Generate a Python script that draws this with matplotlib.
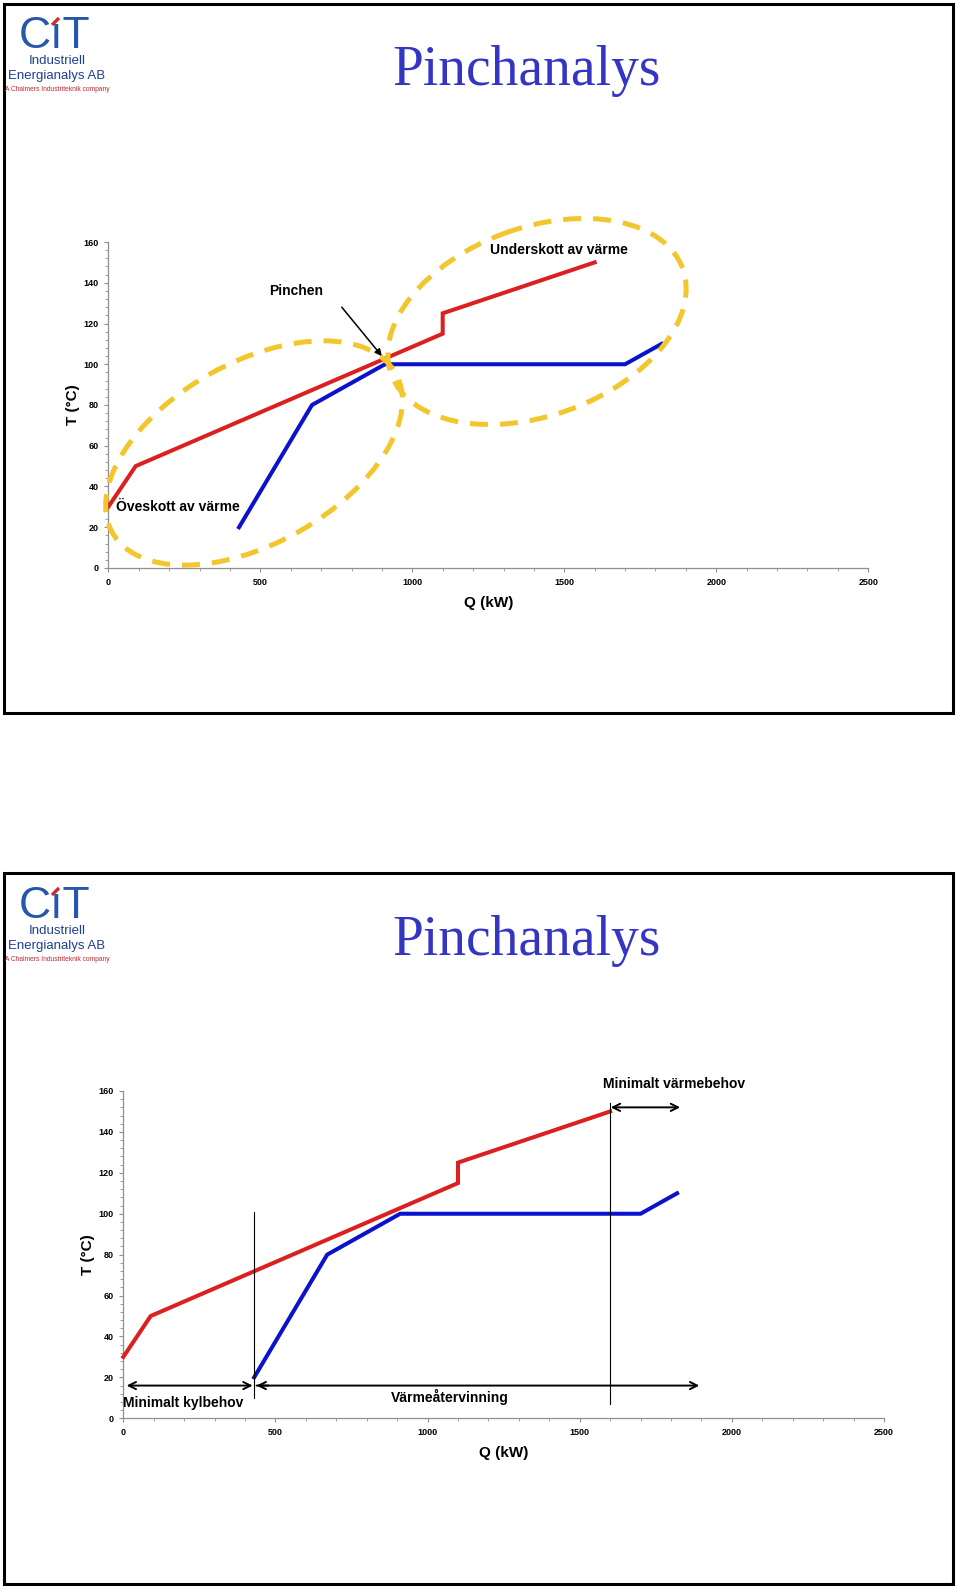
import matplotlib
matplotlib.use("Agg")
import matplotlib.pyplot as plt
from matplotlib.patches import Ellipse, Rectangle
from matplotlib.ticker import MultipleLocator

plt.rcParams['font.family'] = ['Liberation Sans', 'DejaVu Sans']

# ---------------- data ----------------
hot_q = [0, 90, 1100, 1100, 1600]          # hot composite curve, Q (kW)
hot_t = [30, 50, 115, 125, 150]            # T (°C)
cold_q = [430, 670, 910, 1700, 1820]       # cold composite curve, Q (kW)
cold_t = [20, 80, 100, 100, 110]           # T (°C)

x_ticks = [0, 500, 1000, 1500, 2000, 2500]
y_ticks = [0, 20, 40, 60, 80, 100, 120, 140, 160]

title = "Pinchanalys"
x_label = "Q (kW)"
y_label = "T (°C)"

# annotations chart 1
pinch_label = "Pinchen"
pinch_label_pos = (618, 136)
pinch_arrow_from = (768, 128)
pinch_arrow_to = (900, 104)
deficit_label = "Underskott av värme"
deficit_pos = (1483, 156)
surplus_label = "Öveskott av värme"
surplus_pos = (25, 30)

# annotations chart 2
vline_q = [430, 1600]
vline_lo = [10, 7]
vline_hi = [101, 154]
cool_span = (11, 425)
recovery_span = (438, 1893)
span_t = 16
heat_span = (1602, 1830)
heat_span_t = 152
cool_label = "Minimalt kylbehov"
cool_label_pos = (0, 7.5)
recovery_label = "Värmeåtervinning"
recovery_label_pos = (1073, 10.5)
heat_label = "Minimalt värmebehov"
heat_label_pos = (1810, 163.5)

RED = "#dc1f1f"
BLUE = "#0b12cc"
YELLOW = "#f2c62c"
TITLE_BLUE = "#3535c4"
AXIS_GRAY = "#8f8f8f"

W, H = 960, 1590
fig = plt.figure(figsize=(W / 100, H / 100), dpi=100, facecolor="white")


def setup_axes(ax):
    ax.set_xlim(0, 2500)
    ax.set_ylim(0, 160)
    ax.set_xticks(x_ticks)
    ax.set_yticks(y_ticks)
    ax.xaxis.set_minor_locator(MultipleLocator(100))
    ax.yaxis.set_minor_locator(MultipleLocator(4))
    for s in ("top", "right"):
        ax.spines[s].set_visible(False)
    for s in ("left", "bottom"):
        ax.spines[s].set_color(AXIS_GRAY)
        ax.spines[s].set_linewidth(0.9)
    ax.tick_params(which="major", direction="out", length=3, width=0.8,
                   color=AXIS_GRAY, labelsize=6.5, pad=4)
    ax.tick_params(which="minor", direction="out", length=2, width=0.6,
                   color=AXIS_GRAY)
    for lab in ax.get_xticklabels() + ax.get_yticklabels():
        lab.set_fontweight("bold")
    ax.set_xlabel(x_label, fontsize=11, fontweight="bold")
    ax.set_ylabel(y_label, fontsize=11, fontweight="bold")
    ax.xaxis.set_label_coords(0.5, -0.107)
    ax.yaxis.set_label_coords(-0.046, 0.5)
    ax.xaxis.label.set_va("center")
    ax.yaxis.label.set_va("center")
    ax.plot(hot_q, hot_t, color=RED, lw=2.9, clip_on=False, zorder=3,
            solid_joinstyle="miter")
    ax.plot(cold_q, cold_t, color=BLUE, lw=2.9, clip_on=False, zorder=3,
            solid_joinstyle="miter")


# ---------------- chart 1 ----------------
ax1 = fig.add_axes([108.3 / W, 1 - 568 / H, 760 / W, 326 / H])
setup_axes(ax1)
ax1.text(*pinch_label_pos, pinch_label, fontsize=10, fontweight="bold",
         ha="center", va="center")
ax1.annotate("", xy=pinch_arrow_to, xytext=pinch_arrow_from,
             arrowprops=dict(arrowstyle="-|>", color="black", lw=1.1,
                             mutation_scale=10, shrinkA=0, shrinkB=0))
ax1.text(*deficit_pos, deficit_label, fontsize=10, fontweight="bold",
         ha="center", va="center")
ax1.text(*surplus_pos, surplus_label, fontsize=10, fontweight="bold",
         ha="left", va="center", zorder=4)

# ---------------- chart 2 ----------------
ax2 = fig.add_axes([123.3 / W, 1 - 1418.3 / H, 760.7 / W, 327.3 / H])
setup_axes(ax2)
for q, lo, hi in zip(vline_q, vline_lo, vline_hi):
    ax2.plot([q, q], [lo, hi], color="black", lw=0.8, clip_on=False, zorder=4)
arrow_kw = dict(arrowstyle="<->", color="black", lw=1.4, mutation_scale=13,
                shrinkA=0, shrinkB=0)
ax2.annotate("", xy=(cool_span[0], span_t), xytext=(cool_span[1], span_t),
             arrowprops=arrow_kw, annotation_clip=False)
ax2.annotate("", xy=(recovery_span[1], span_t), xytext=(recovery_span[0], span_t),
             arrowprops=dict(arrow_kw, arrowstyle="->"), annotation_clip=False)
ax2.annotate("", xy=(recovery_span[0], span_t), xytext=(recovery_span[0] + 40, span_t),
             arrowprops=dict(arrow_kw, arrowstyle="->"), annotation_clip=False)
ax2.annotate("", xy=(heat_span[0], heat_span_t), xytext=(heat_span[1], heat_span_t),
             arrowprops=arrow_kw, annotation_clip=False)
ax2.text(*cool_label_pos, cool_label, fontsize=10, fontweight="bold",
         ha="left", va="center")
ax2.text(*recovery_label_pos, recovery_label, fontsize=10, fontweight="bold",
         ha="center", va="center")
ax2.text(*heat_label_pos, heat_label, fontsize=10, fontweight="bold",
         ha="center", va="center")

# ---------------- slide decoration (pixel overlay) ----------------
ov = fig.add_axes([0, 0, 1, 1], zorder=5)
ov.set_xlim(0, W)
ov.set_ylim(H, 0)
ov.set_axis_off()

# slide frames
ov.add_patch(Rectangle((4, 4), 949, 709, fill=False, ec="black", lw=2.2))
ov.add_patch(Rectangle((4, 873), 949, 711, fill=False, ec="black", lw=2.2))

# dashed ellipses on chart 1
dash = (0, (3.6, 2.4))
ov.add_patch(Ellipse((254, 453), 325, 181, angle=-29.4, fill=False,
                     ec=YELLOW, lw=3.6, ls=dash))
ov.add_patch(Ellipse((537, 321.5), 310, 188, angle=-20, fill=False,
                     ec=YELLOW, lw=3.6, ls=dash))


def slide_header(dy, title_baseline):
    ov.text(527, title_baseline, title, fontsize=40, color=TITLE_BLUE,
            family=["Liberation Serif"], ha="center", va="baseline")
    logo_blue = "#2657ab"
    ov.text(19, 48 + dy, "CıT", fontsize=32, color=logo_blue,
            ha="left", va="baseline")
    ov.plot([52, 59], [25 + dy, 18 + dy], color="#d42a2a", lw=2.4,
            solid_capstyle="butt")
    ov.text(57.5, 61.5 + dy, "Industriell", fontsize=9.5, color="#1f3f8f",
            ha="center", va="center")
    ov.text(56.5, 76 + dy, "Energianalys AB", fontsize=9.5, color="#1f3f8f",
            ha="center", va="center")
    ov.text(57, 89.5 + dy, "A Chalmers Industriteknik company", fontsize=4.8,
            color="#c0282d", ha="center", va="center")


slide_header(0, 85)
slide_header(870, 955)

fig.savefig("out.png", dpi=100, facecolor="white")
